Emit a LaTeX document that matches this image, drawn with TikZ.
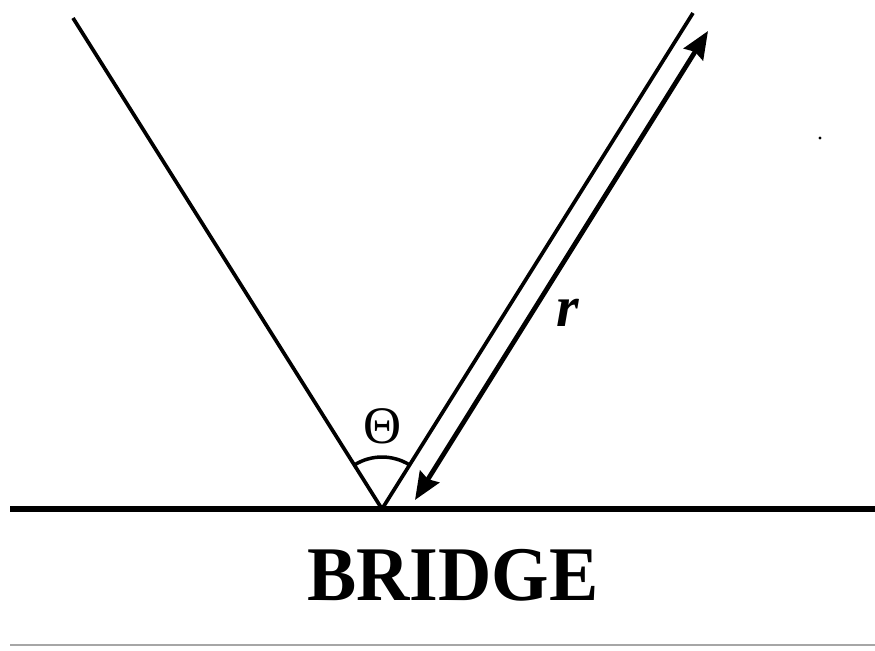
\documentclass[tikz,border=0pt]{standalone}
\usepackage{fontspec}
\setmainfont{Liberation Serif}
\usetikzlibrary{arrows.meta}
\begin{document}
\begin{tikzpicture}[x=0.02cm, y=0.02cm,
        ray/.style={line width=2.1pt},
        span/.style={line width=2.7pt, {Stealth[length=0.55cm,width=0.45cm,inset=0.06cm]}-{Stealth[length=0.55cm,width=0.45cm,inset=0.06cm]}},
        deck/.style={line width=3pt},
        rule/.style={line width=1.1pt, gray!70}]
        \useasboundingbox (0,0) rectangle (875,650);
        % points
        \coordinate (o) at (382,141);            % vertex on the bridge
        \coordinate (a) at (73,632);
        \coordinate (b) at (693,637);
        \coordinate (p) at (415,150);
        \coordinate (q) at (708,619);
        \coordinate (d1) at (10,141);
        \coordinate (d2) at (875,141);
        \coordinate (g1) at (10,5);
        \coordinate (g2) at (875,5);
        % rays and deck
        \draw[ray] (o) -- (a);
        \draw[ray] (o) -- (b);
        \draw[deck] (d1) -- (d2);
        \draw[span] (p) -- (q);
        \draw[line width=2pt] (o) ++(58:1.04cm) arc[start angle=58, end angle=122, radius=1.04cm];
        % labels
        \node (theta) at (383,224) {\fontsize{30}{34}\selectfont Θ};
        \node (r) at (568,337) {\fontsize{33}{36}\selectfont\bfseries\itshape r};
        \node[xscale=0.955] (bridge) at (453,75) {\fontsize{44}{50}\selectfont\bfseries BRIDGE};
        \fill (820,512) circle (1.6);
        \draw[rule] (g1) -- (g2);
    \end{tikzpicture}
\end{document}
